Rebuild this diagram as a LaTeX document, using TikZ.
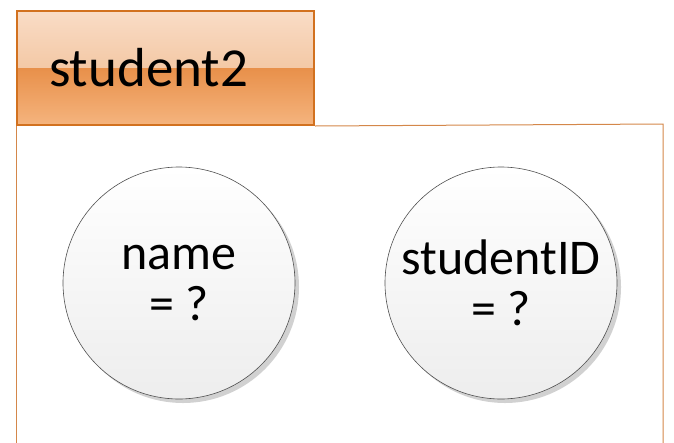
\documentclass[tikz,border=0pt]{standalone}
\usepackage{fontspec}
\setmainfont{Carlito}
\usetikzlibrary{shadows}
\definecolor{tabedge}{HTML}{D2711F}
\definecolor{tabtopA}{HTML}{F9DCC6}
\definecolor{tabtopB}{HTML}{EEB585}
\definecolor{tabbotA}{HTML}{E8904A}
\definecolor{tabbotB}{HTML}{F5B47E}
\definecolor{frameedge}{HTML}{D4874A}
\definecolor{circedge}{HTML}{505050}
\tikzset{
  tabbox/.style={rectangle, draw=tabedge, line width=2pt, anchor=north west,
    minimum width=297pt, minimum height=114pt, inner xsep=32pt, inner ysep=0pt,
    text width=233pt, align=left, font=\fontsize{55}{56}\selectfont,
    path picture={
      \fill[top color=tabtopA, bottom color=tabtopB]
        (path picture bounding box.north west) rectangle (path picture bounding box.east);
      \fill[top color=tabbotA, bottom color=tabbotB]
        (path picture bounding box.west) rectangle (path picture bounding box.south east);
    }},
  attr/.style={circle, draw=circedge, line width=0.6pt, minimum size=232pt, inner sep=0pt,
    top color=white, bottom color=black!7, align=center,
    font=\fontsize{50}{51}\selectfont,
    drop shadow={shadow xshift=4pt, shadow yshift=-4pt, opacity=0.18, fill=black}},
  frame/.style={draw=frameedge, line width=1pt}
}
\begin{document}
\begin{tikzpicture}[x=1pt, y=-1pt]
\useasboundingbox (0,0) rectangle (674,442);
\coordinate (fl) at (16,460);
\coordinate (fr) at (663,460);
\node[tabbox] (tab) at (16,10) {student2};
\draw[frame] (tab.south east) -- (663,124) coordinate (ftr) -- (fr);
\draw[frame] (tab.south west) -- (fl);
\node[attr] (name) at (179,283) {name\\= ?};
\node[attr] (sid) at (501,283) {studentID\\= ?};
\end{tikzpicture}
\end{document}
